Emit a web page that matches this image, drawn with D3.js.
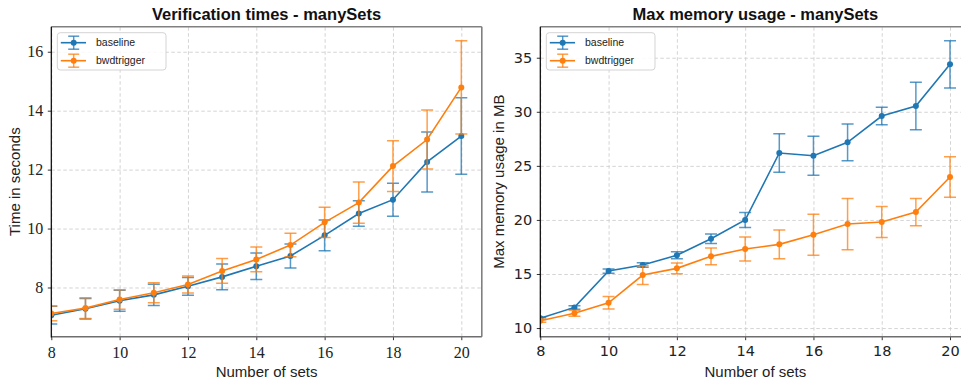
<!DOCTYPE html>
<html>
<head>
<meta charset="utf-8">
<script src="https://cdn.jsdelivr.net/npm/d3@7"></script>
<style>
  html, body { margin: 0; padding: 0; background: #fff; }
  svg { display: block; }
</style>
</head>
<body>
<svg id="chart" width="961" height="383"></svg>
<script>
// Number of sets on the x axis
const sets = [8, 9, 10, 11, 12, 13, 14, 15, 16, 17, 18, 19, 20];
const xTicks = [8, 10, 12, 14, 16, 18, 20];

// Verification times (seconds): mean and error
const timeBaseline    = [7.06, 7.28, 7.55, 7.75, 8.04, 8.36, 8.72, 9.07, 9.77, 10.51, 10.98, 12.26, 13.14];
const timeBaselineErr = [0.30, 0.35, 0.36, 0.36, 0.30, 0.44, 0.45, 0.41, 0.52, 0.43, 0.56, 1.02, 1.30];
const timeBwd         = [7.12, 7.30, 7.59, 7.82, 8.10, 8.56, 8.95, 9.44, 10.21, 10.88, 12.12, 13.02, 14.79];
const timeBwdErr      = [0.25, 0.35, 0.33, 0.34, 0.29, 0.42, 0.42, 0.40, 0.51, 0.70, 0.86, 1.00, 1.58];
const timeTicks = [8, 10, 12, 14, 16];

// Max memory usage (MB): mean and error
const memBaseline    = [10.90, 11.91, 15.27, 15.83, 16.73, 18.26, 19.99, 26.19, 25.94, 27.18, 29.61, 30.54, 34.39];
const memBaselineErr = [0.10, 0.16, 0.20, 0.20, 0.33, 0.44, 0.70, 1.78, 1.80, 1.70, 0.80, 2.20, 2.19];
const memBwd         = [10.68, 11.36, 12.34, 14.90, 15.52, 16.63, 17.31, 17.74, 18.63, 19.62, 19.81, 20.73, 23.97];
const memBwdErr      = [0.15, 0.28, 0.57, 0.87, 0.50, 0.78, 1.10, 1.33, 1.90, 2.37, 1.44, 1.26, 1.88];
const memTicks = [10, 15, 20, 25, 30, 35];

const seriesNames = ["baseline", "bwdtrigger"];
const seriesColors = ["#1f77b4", "#ff7f0e"];

const svg = d3.select("#chart");

function panel(opt) {
  const g = svg.append("g");
  const x = d3.scaleLinear().domain(opt.xDomain).range([opt.left, opt.right]);
  const y = d3.scaleLinear().domain(opt.yDomain).range([opt.bottom, opt.top]);

  // clip area for the plot region
  const clipId = "clip-" + opt.id;
  svg.append("clipPath").attr("id", clipId)
    .append("rect").attr("x", opt.left).attr("y", opt.top)
    .attr("width", opt.right - opt.left).attr("height", opt.bottom - opt.top);

  // dashed grid
  const grid = g.append("g").attr("clip-path", `url(#${clipId})`);
  grid.append("g").attr("transform", `translate(0,${opt.bottom})`)
    .call(d3.axisBottom(x).tickValues(xTicks).tickSize(-(opt.bottom - opt.top)).tickFormat(""))
    .call(s => s.select(".domain").remove())
    .call(s => s.selectAll("line").attr("stroke", "#cfcfcf").attr("stroke-width", 0.9).attr("stroke-dasharray", "3.5,2.5"));
  grid.append("g").attr("transform", `translate(${opt.left},0)`)
    .call(d3.axisLeft(y).tickValues(opt.yTicks).tickSize(-(opt.right - opt.left)).tickFormat(""))
    .call(s => s.select(".domain").remove())
    .call(s => s.selectAll("line").attr("stroke", "#cfcfcf").attr("stroke-width", 0.9).attr("stroke-dasharray", "3.5,2.5"));

  // series: error bars, line, markers
  const plot = g.append("g").attr("clip-path", `url(#${clipId})`);
  opt.series.forEach((s, si) => {
    const col = seriesColors[si];
    const pts = sets.map((v, i) => ({ x: v, y: s.values[i], e: s.errors[i] }));
    const eb = plot.append("g").attr("stroke", col).attr("stroke-width", 1.5).attr("stroke-opacity", 0.75);
    eb.selectAll("line.bar").data(pts).join("line")
      .attr("x1", d => x(d.x)).attr("x2", d => x(d.x))
      .attr("y1", d => y(d.y - d.e)).attr("y2", d => y(d.y + d.e));
    eb.selectAll("line.capTop").data(pts).join("line").attr("class", "capTop")
      .attr("x1", d => x(d.x) - 6).attr("x2", d => x(d.x) + 6)
      .attr("y1", d => y(d.y + d.e)).attr("y2", d => y(d.y + d.e));
    eb.selectAll("line.capBot").data(pts).join("line").attr("class", "capBot")
      .attr("x1", d => x(d.x) - 6).attr("x2", d => x(d.x) + 6)
      .attr("y1", d => y(d.y - d.e)).attr("y2", d => y(d.y - d.e));
    plot.append("path").datum(pts)
      .attr("fill", "none").attr("stroke", col).attr("stroke-width", 1.6)
      .attr("d", d3.line().x(d => x(d.x)).y(d => y(d.y)));
    plot.append("g").selectAll("circle").data(pts).join("circle")
      .attr("cx", d => x(d.x)).attr("cy", d => y(d.y)).attr("r", 3).attr("fill", col);
  });

  // axes with ticks and labels
  const ax = g.append("g").attr("transform", `translate(0,${opt.bottom})`)
    .call(d3.axisBottom(x).tickValues(xTicks).tickSize(3.5).tickPadding(6).tickFormat(d3.format("d")));
  ax.select(".domain").remove();
  ax.selectAll("line").attr("stroke", "#333").attr("stroke-width", 1);
  ax.selectAll("text").attr("font-family", opt.tickFont).attr("font-size", opt.tickSize).attr("fill", "#222");

  const ay = g.append("g").attr("transform", `translate(${opt.left},0)`)
    .call(d3.axisLeft(y).tickValues(opt.yTicks).tickSize(3.5).tickPadding(4.5).tickFormat(d3.format("d")));
  ay.select(".domain").remove();
  ay.selectAll("line").attr("stroke", "#333").attr("stroke-width", 1);
  ay.selectAll("text").attr("font-family", opt.tickFont).attr("font-size", opt.tickSize).attr("fill", "#222");

  // spines
  const sp = g.append("g");
  sp.append("line").attr("x1", opt.left).attr("x2", opt.right).attr("y1", opt.top).attr("y2", opt.top)
    .attr("stroke", "#808080").attr("stroke-width", 1.6);
  sp.append("line").attr("x1", opt.right).attr("x2", opt.right).attr("y1", opt.top).attr("y2", opt.bottom)
    .attr("stroke", "#808080").attr("stroke-width", 1.6);
  sp.append("line").attr("x1", opt.left).attr("x2", opt.right).attr("y1", opt.bottom).attr("y2", opt.bottom)
    .attr("stroke", "#6e6e6e").attr("stroke-width", 1.4);
  sp.append("line").attr("x1", opt.left).attr("x2", opt.left).attr("y1", opt.top).attr("y2", opt.bottom + 0.7)
    .attr("stroke", "#000").attr("stroke-width", 1.2);

  // title and axis labels
  g.append("text").attr("x", (opt.left + opt.right) / 2).attr("y", 20)
    .attr("text-anchor", "middle").attr("font-family", "Liberation Sans, Arial, sans-serif")
    .attr("font-weight", "bold").attr("font-size", 16.5).attr("fill", "#111").text(opt.title);
  g.append("text").attr("x", (opt.left + opt.right) / 2).attr("y", 377)
    .attr("text-anchor", "middle").attr("font-family", "Liberation Sans, Arial, sans-serif")
    .attr("font-size", 15).attr("fill", "#222").text("Number of sets");
  g.append("text")
    .attr("transform", `translate(${opt.yLabelX},${(opt.top + opt.bottom) / 2}) rotate(-90)`)
    .attr("text-anchor", "middle").attr("font-family", "Liberation Sans, Arial, sans-serif")
    .attr("font-size", 15).attr("fill", "#222").text(opt.yLabel);

  // legend
  const lg = g.append("g").attr("transform", `translate(${opt.left + 6},32.7)`);
  lg.append("rect").attr("x", 0).attr("y", 0).attr("width", 108.7).attr("height", 37.3).attr("rx", 3)
    .attr("fill", "#fff").attr("fill-opacity", 0.85).attr("stroke", "#d4d4d4").attr("stroke-width", 1);
  seriesNames.forEach((name, i) => {
    const cy = 10 + i * 18;
    const col = seriesColors[i];
    const it = lg.append("g");
    it.append("line").attr("x1", 3.5).attr("x2", 28.7).attr("y1", cy).attr("y2", cy)
      .attr("stroke", col).attr("stroke-width", 1.6);
    const eb = it.append("g").attr("stroke", col).attr("stroke-width", 1.5).attr("stroke-opacity", 0.75);
    eb.append("line").attr("x1", 16.4).attr("x2", 16.4).attr("y1", cy - 6.5).attr("y2", cy + 6.5);
    eb.append("line").attr("x1", 10.9).attr("x2", 21.9).attr("y1", cy - 6.5).attr("y2", cy - 6.5);
    eb.append("line").attr("x1", 10.9).attr("x2", 21.9).attr("y1", cy + 6.5).attr("y2", cy + 6.5);
    it.append("circle").attr("cx", 16.4).attr("cy", cy).attr("r", 3).attr("fill", col);
    it.append("text").attr("x", 38.7).attr("y", cy + 3.8)
      .attr("font-family", "Liberation Sans, Arial, sans-serif").attr("font-size", 10.5)
      .attr("fill", "#222").text(name);
  });
}

panel({
  id: "time", left: 51.3, right: 481.8, top: 26.7, bottom: 336.7,
  xDomain: [8, 20.6], yDomain: [6.33, 16.85], yTicks: timeTicks,
  tickFont: "Liberation Serif, Times New Roman, serif", tickSize: 16,
  title: "Verification times - manySets", yLabel: "Time in seconds", yLabelX: 20,
  series: [
    { values: timeBaseline, errors: timeBaselineErr },
    { values: timeBwd, errors: timeBwdErr }
  ]
});

panel({
  id: "mem", left: 540.3, right: 970.5, top: 26.7, bottom: 336.7,
  xDomain: [8, 20.6], yDomain: [9.2, 37.87], yTicks: memTicks,
  tickFont: "DejaVu Sans, sans-serif", tickSize: 14.5,
  title: "Max memory usage - manySets", yLabel: "Max memory usage in MB", yLabelX: 503.5,
  series: [
    { values: memBaseline, errors: memBaselineErr },
    { values: memBwd, errors: memBwdErr }
  ]
});
</script>
</body>
</html>
